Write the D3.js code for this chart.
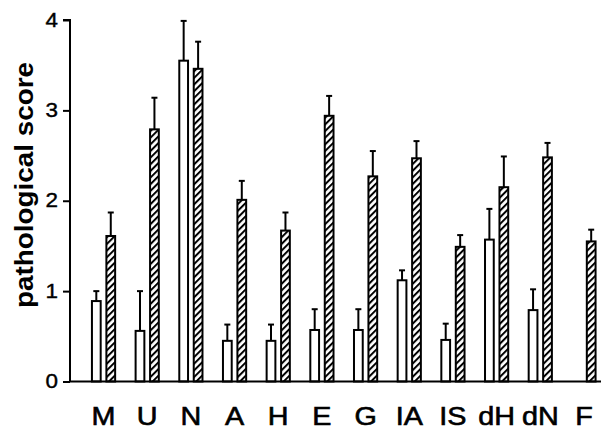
<!DOCTYPE html>
<html>
<head>
<meta charset="utf-8">
<script src="https://cdn.jsdelivr.net/npm/d3@7"></script>
<style>
  html, body { margin: 0; padding: 0; background: #fff; }
  svg { display: block; font-family: "Liberation Sans", Arial, Helvetica, sans-serif; }
</style>
</head>
<body>
<div id="chart"></div>
<script>
const categories = ["M", "U", "N", "A", "H", "E", "G", "IA", "IS", "dH", "dN", "F"];
const seriesNames = ["open", "hatched"];
const openValues    = [0.89, 0.56, 3.55, 0.45, 0.45, 0.57, 0.57, 1.12, 0.46, 1.57, 0.79, 0];
const openErrors    = [0.11, 0.44, 0.44, 0.18, 0.18, 0.23, 0.23, 0.11, 0.18, 0.34, 0.23, 0];
const hatchedValues = [1.61, 2.79, 3.46, 2.01, 1.67, 2.94, 2.27, 2.47, 1.49, 2.15, 2.48, 1.55];
const hatchedErrors = [0.26, 0.35, 0.30, 0.21, 0.20, 0.22, 0.28, 0.19, 0.13, 0.34, 0.16, 0.13];
const yTicks = [0, 1, 2, 3, 4];
const yLabel = "pathological score";

const W = 603, H = 430;
const svg = d3.select("#chart").append("svg").attr("width", W).attr("height", H);

const defs = svg.append("defs");
const pat = defs.append("pattern")
  .attr("id", "hatch")
  .attr("patternUnits", "userSpaceOnUse")
  .attr("width", 4.7).attr("height", 4.7)
  .attr("patternTransform", "rotate(45)");
pat.append("rect").attr("width", 4.7).attr("height", 4.7).attr("fill", "#fff");
pat.append("line").attr("x1", 1).attr("y1", 0).attr("x2", 1).attr("y2", 4.7)
  .attr("stroke", "#000").attr("stroke-width", 2);

const y = d3.scaleLinear().domain([0, 4]).range([381.5, 20]);
const x = d3.scaleBand().domain(categories).range([81.7, 605.8]).padding(0);
const xi = d3.scaleBand().domain(seriesNames).range([-12.5, 12.5]).paddingInner(0.27);

const rows = categories.map((c, i) => ({
  cat: c,
  items: [
    { s: "open", v: openValues[i], e: openErrors[i] },
    { s: "hatched", v: hatchedValues[i], e: hatchedErrors[i] }
  ]
}));

const g = svg.append("g");
const groups = g.selectAll("g.grp").data(rows).join("g")
  .attr("class", "grp")
  .attr("transform", d => `translate(${x(d.cat) + x.bandwidth() / 2},0)`);

const items = groups.selectAll("g.item").data(d => d.items.filter(it => it.v > 0)).join("g").attr("class", "item");

// error bars
items.append("line")
  .attr("x1", d => xi(d.s) + xi.bandwidth() / 2)
  .attr("x2", d => xi(d.s) + xi.bandwidth() / 2)
  .attr("y1", d => y(d.v))
  .attr("y2", d => y(d.v + d.e))
  .attr("stroke", "#000").attr("stroke-width", 2);
items.append("line")
  .attr("x1", d => xi(d.s) + xi.bandwidth() / 2 - 3)
  .attr("x2", d => xi(d.s) + xi.bandwidth() / 2 + 3)
  .attr("y1", d => y(d.v + d.e))
  .attr("y2", d => y(d.v + d.e))
  .attr("stroke", "#000").attr("stroke-width", 2);

items.append("rect")
  .attr("x", d => xi(d.s) + 0.9)
  .attr("width", xi.bandwidth() - 1.8)
  .attr("y", d => y(d.v))
  .attr("height", d => y(0) - y(d.v))
  .attr("fill", d => d.s === "open" ? "#fff" : "url(#hatch)")
  .attr("stroke", "#000").attr("stroke-width", 2);

// baseline
svg.append("line")
  .attr("x1", 70).attr("x2", 601)
  .attr("y1", y(0)).attr("y2", y(0))
  .attr("stroke", "#000").attr("stroke-width", 2);

// y axis
const yAxis = d3.axisLeft(y).tickValues(yTicks).tickFormat(d3.format("d")).tickSize(7).tickPadding(3.5);
const ya = svg.append("g").attr("transform", "translate(70,0)").call(yAxis);
ya.select(".domain").attr("stroke-width", 2).attr("d", `M-7,${y(4)}H0V${y(0)}`);
ya.selectAll(".tick line").attr("stroke-width", 2);
ya.selectAll(".tick text")
  .attr("font-size", 19.5).attr("fill", "#000")
  .attr("stroke", "#000").attr("stroke-width", 0.4)
  .attr("font-family", "'Liberation Sans', Arial, sans-serif")
  .attr("transform", "scale(1.15,1)");

// x labels
svg.append("g").selectAll("text").data(categories).join("text")
  .attr("transform", d => `translate(${x(d) + x.bandwidth() / 2},424.5) scale(1.15,1)`)
  .attr("text-anchor", "middle")
  .attr("font-size", 25)
  .attr("fill", "#000")
  .attr("stroke", "#000").attr("stroke-width", 0.6)
  .text(d => d);

// y label
svg.append("text")
  .attr("transform", `translate(32.5,${185}) rotate(-90)`)
  .attr("text-anchor", "middle")
  .attr("font-size", 26)
  .attr("font-weight", "bold")
  .attr("fill", "#000")
  .attr("textLength", 246)
  .attr("lengthAdjust", "spacingAndGlyphs")
  .text(yLabel);
</script>
</body>
</html>
